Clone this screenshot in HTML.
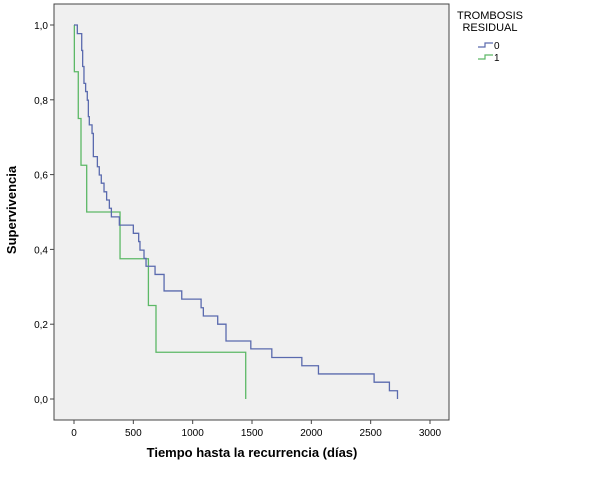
<!DOCTYPE html>
<html><head><meta charset="utf-8"><style>
body{margin:0;background:#fff;}
svg text{font-family:"Liberation Sans",sans-serif;}
</style></head><body>
<svg id="chart" width="600" height="473">
<rect x="54" y="4" width="395" height="416" fill="#f0f0f0" stroke="#444" stroke-width="1"/>
<g id="axes"></g>
<g id="series"></g>
<text x="16" y="210" transform="rotate(-90 16 210)" text-anchor="middle" font-size="13" font-weight="bold">Supervivencia</text>
<text x="252" y="457" text-anchor="middle" font-size="13" font-weight="bold">Tiempo hasta la recurrencia (días)</text>
<g>
<text x="490" y="19" text-anchor="middle" font-size="11">TROMBOSIS</text>
<text x="490" y="31" text-anchor="middle" font-size="11">RESIDUAL</text>
<path d="M478 47 H485 V43 H493" fill="none" stroke="#5a6aae" stroke-width="1.2"/>
<text x="494" y="49" font-size="10">0</text>
<path d="M478 59 H485 V55 H493" fill="none" stroke="#5cb866" stroke-width="1.2"/>
<text x="494" y="61" font-size="10">1</text>
</g>
</svg>
<script>
const xTicks=[0,500,1000,1500,2000,2500,3000];
const yTicks=[0,0.2,0.4,0.6,0.8,1.0];
const yTickLabels=["0,0","0,2","0,4","0,6","0,8","1,0"];
const blueTimes=[0,28,65,73,84,98,112,121,129,152,163,197,213,230,253,275,298,315,382,500,545,556,590,607,683,759,908,1071,1090,1211,1281,1490,1667,1920,2060,2529,2658,2726];
const blueSurv=[1,0.977,0.932,0.889,0.844,0.822,0.799,0.755,0.733,0.710,0.648,0.621,0.599,0.577,0.554,0.532,0.510,0.487,0.465,0.443,0.421,0.398,0.376,0.355,0.333,0.289,0.267,0.244,0.222,0.200,0.155,0.134,0.111,0.089,0.067,0.045,0.022,0];
const greenTimes=[0,3,36,59,107,388,627,691,1447];
const greenSurv=[1,0.875,0.75,0.625,0.5,0.375,0.25,0.125,0];
const NS="http://www.w3.org/2000/svg";
function xs(d){return 74+d*(356/3000);}
function ys(s){return 399-s*374;}
const axes=document.getElementById('axes');
xTicks.forEach(t=>{
 const l=document.createElementNS(NS,'line');
 l.setAttribute('x1',xs(t));l.setAttribute('x2',xs(t));l.setAttribute('y1',420);l.setAttribute('y2',424);l.setAttribute('stroke','#444');
 
 
 axes.appendChild(l);
 const tx=document.createElementNS(NS,'text');
 tx.setAttribute('x',xs(t));tx.setAttribute('y',436);tx.setAttribute('text-anchor','middle');tx.setAttribute('font-size','10');
 tx.textContent=t;
 
 
 axes.appendChild(tx);
});
yTicks.forEach((t,i)=>{
 const l=document.createElementNS(NS,'line');
 l.setAttribute('x1',50);l.setAttribute('x2',54);l.setAttribute('y1',ys(t));l.setAttribute('y2',ys(t));l.setAttribute('stroke','#444');
 
 
 axes.appendChild(l);
 const tx=document.createElementNS(NS,'text');
 tx.setAttribute('x',48);tx.setAttribute('y',ys(t)+4);tx.setAttribute('text-anchor','end');tx.setAttribute('font-size','10');
 tx.textContent=yTickLabels[i];
 
 
 axes.appendChild(tx);
});
function step(times,surv,color,name){
 let d='M'+xs(times[0])+' '+ys(surv[0]);
 for(let i=1;i<times.length;i++){d+=' H'+xs(times[i])+' V'+ys(surv[i]);}
 const p=document.createElementNS(NS,'path');
 p.setAttribute('d',d);p.setAttribute('fill','none');p.setAttribute('stroke',color);p.setAttribute('stroke-width','1.3');
 
 
 document.getElementById('series').appendChild(p);
}
step(greenTimes,greenSurv,'#5cb866','survival-curve-1');
step(blueTimes,blueSurv,'#5a6aae','survival-curve-0');
</script>
</body></html>
